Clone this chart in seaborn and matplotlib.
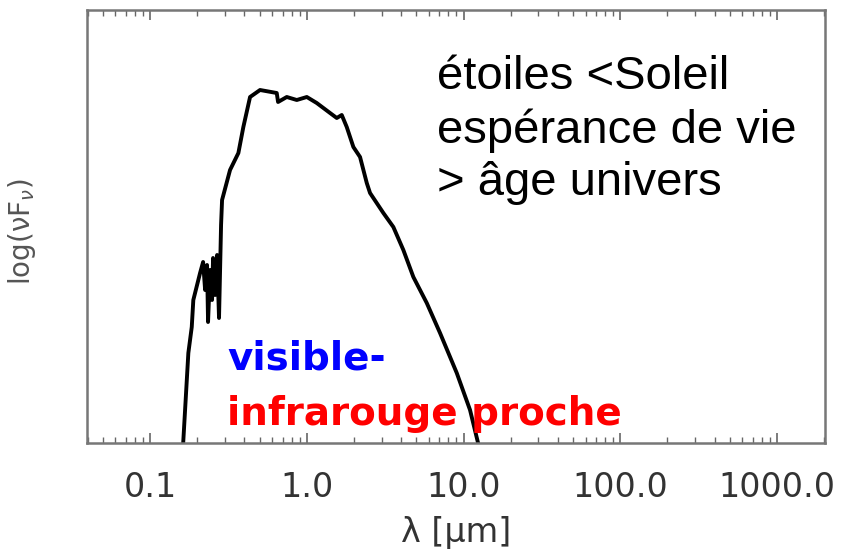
import matplotlib
matplotlib.use("Agg")
import matplotlib.pyplot as plt
import matplotlib.ticker as mticker
import seaborn as sns
import pandas as pd

# wavelength in micron
wavelength = [0.162, 0.1755, 0.1845, 0.1888, 0.2085, 0.218, 0.2245, 0.231, 0.2344,
              0.2415, 0.2486, 0.2523, 0.260, 0.2676, 0.2754, 0.2838, 0.288, 0.3238,
              0.366, 0.3937, 0.4345, 0.503, 0.643, 0.6556, 0.745, 0.863, 1.0, 1.157,
              1.407, 1.553, 1.671, 1.798, 1.982, 2.186, 2.413, 2.532, 3.079, 3.566,
              4.13, 4.784, 5.825, 7.08, 9.05, 11.0, 12.6]
# log(nu F_nu), arbitrary units
log_flux = [-0.05, 0.90, 1.16, 1.43, 1.70, 1.81, 1.53, 1.78, 1.21,
            1.73, 1.43, 1.85, 1.48, 1.88, 1.25, 2.18, 2.43, 2.73,
            2.90, 3.16, 3.46, 3.53, 3.50, 3.41, 3.46, 3.43, 3.46, 3.40,
            3.30, 3.25, 3.28, 3.16, 2.96, 2.86, 2.60, 2.50, 2.30, 2.16,
            1.93, 1.66, 1.40, 1.10, 0.70, 0.33, -0.05]

tick_values = [0.1, 1.0, 10.0, 100.0, 1000.0]
tick_labels = ["0.1", "1.0", "10.0", "100.0", "1000.0"]

df = pd.DataFrame({"wl": wavelength, "f": log_flux})

sns.set_theme(style="white")
plt.rcParams['font.family'] = ['DejaVu Sans']

fig = plt.figure(figsize=(8.42, 5.53), dpi=100)
ax = fig.add_axes([87/842, 1-443/553, (825-87)/842, (443-10)/553])

sns.lineplot(data=df, x="wl", y="f", sort=False, estimator=None,
             color="black", linewidth=2.8, ax=ax)

ax.set_xscale("log")
ax.set_xlim(0.0396, 2023)
ax.set_ylim(0, 4.33)

ax.xaxis.set_major_locator(mticker.FixedLocator(tick_values))
ax.xaxis.set_major_formatter(mticker.FixedFormatter(tick_labels))
ax.xaxis.set_minor_locator(mticker.LogLocator(base=10, subs=range(2, 10), numticks=20))
ax.xaxis.set_minor_formatter(mticker.NullFormatter())
ax.tick_params(axis="x", which="both", direction="in", top=True, bottom=True,
               color="#666666", labelsize=24, labelcolor="#333333", pad=20)
ax.tick_params(axis="x", which="major", length=7, width=1.2)
ax.tick_params(axis="x", which="minor", length=4, width=1.0)
ax.set_yticks([])
ax.set_xlabel("λ [μm]", fontsize=24, color="#333333", labelpad=9)
ax.set_ylabel("")

for s in ax.spines.values():
    s.set_color("#777777")
    s.set_linewidth(1.8)

fig.text(22/842, 1-232/553, "log(νF$_ν$)", rotation=90, fontsize=20,
         color="#555555", ha="center", va="center")

fig.text(437/842, 1-195/553, "étoiles <Soleil\nespérance de vie\n> âge univers",
         fontsize=34, family="Liberation Sans", color="black",
         ha="left", va="baseline", linespacing=1.25, ma="left")

fig.text(227/842, 1-370/553, "visible-", fontsize=28, fontweight="bold",
         color="#0000FF", ha="left", va="baseline")
fig.text(227/842, 1-425/553, "infrarouge proche", fontsize=28, fontweight="bold",
         color="#FF0000", ha="left", va="baseline")

fig.savefig("out.png", dpi=100, facecolor="white")
